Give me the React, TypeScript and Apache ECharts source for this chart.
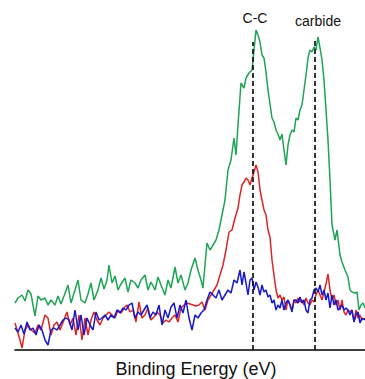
import React, { useEffect, useRef } from "react";
import * as echarts from "echarts";

// channel position (left→right) and intensity readings (screen-depth, converted to counts below)
const greenPts: number[][] = [
  [15, 303], [18, 298], [22, 295], [25, 301], [28, 290], [31, 294], [35, 316], [38, 296], [41, 300], [45, 298],
  [48, 305], [51, 300], [55, 305], [58, 296], [61, 304], [64, 296], [68, 285], [71, 303], [75, 290], [78, 280],
  [81, 300], [85, 303], [88, 294], [91, 283], [94, 300], [98, 290], [101, 278], [104, 289], [107, 280], [109, 265],
  [112, 283], [115, 276], [118, 290], [121, 284], [125, 278], [128, 292], [131, 280], [135, 283], [138, 288], [141, 280],
  [145, 275], [148, 290], [151, 282], [155, 290], [158, 277], [161, 285], [165, 295], [168, 280], [171, 288], [175, 267],
  [178, 283], [181, 275], [185, 290], [188, 283], [191, 270], [195, 258], [198, 270], [201, 280], [203, 288], [205, 265],
  [207, 243], [210, 250], [213, 245], [216, 240], [219, 230], [222, 215], [225, 200], [228, 170], [231, 160], [234, 138],
  [236, 155], [238, 125], [241, 83], [244, 88], [246, 78], [249, 73], [252, 70], [254, 50], [256, 30], [258, 35],
  [260, 42], [262, 55], [264, 58], [266, 72], [268, 90], [270, 104], [272, 118], [274, 122], [276, 130], [278, 134],
  [280, 140], [282, 134], [284, 150], [286, 165], [288, 145], [290, 135], [292, 130], [294, 132], [296, 118], [298, 120],
  [300, 110], [302, 105], [304, 90], [306, 75], [308, 58], [310, 50], [312, 52], [314, 47], [316, 50], [318, 37],
  [320, 48], [322, 60], [324, 80], [326, 110], [328, 140], [330, 180], [332, 225], [335, 240], [337, 230], [340, 255],
  [342, 262], [345, 270], [348, 277], [350, 290], [352, 292], [355, 293], [357, 292], [359, 310], [361, 305], [363, 303],
  [365, 308],
];

const redPts: number[][] = [
  [15, 323], [18, 333], [20, 340], [22, 348], [25, 330], [28, 325], [31, 330], [35, 333], [38, 325], [41, 330],
  [45, 315], [48, 318], [51, 335], [54, 325], [57, 322], [60, 330], [64, 320], [67, 312], [70, 325], [73, 318],
  [76, 335], [79, 315], [82, 340], [85, 318], [88, 335], [91, 320], [94, 312], [97, 320], [100, 325], [103, 318],
  [106, 315], [109, 312], [112, 315], [115, 318], [118, 310], [121, 313], [124, 308], [127, 305], [130, 312], [133, 310],
  [136, 322], [139, 302], [142, 318], [145, 315], [148, 308], [151, 320], [154, 317], [157, 312], [160, 315], [163, 323],
  [166, 320], [169, 322], [172, 318], [175, 315], [178, 322], [181, 308], [184, 305], [187, 303], [190, 304], [193, 305],
  [196, 306], [199, 305], [202, 302], [205, 310], [208, 300], [211, 295], [214, 290], [217, 285], [220, 275], [223, 265],
  [226, 250], [229, 232], [232, 230], [235, 218], [238, 208], [240, 195], [242, 185], [244, 182], [246, 178], [248, 180],
  [250, 185], [252, 178], [254, 172], [256, 165], [258, 172], [260, 190], [262, 200], [264, 210], [266, 215], [268, 230],
  [270, 237], [272, 260], [274, 275], [276, 290], [278, 298], [280, 295], [282, 300], [284, 297], [286, 310], [288, 300],
  [290, 305], [292, 310], [294, 300], [296, 303], [298, 298], [300, 302], [302, 300], [304, 305], [306, 298], [308, 303],
  [310, 305], [312, 300], [314, 302], [316, 295], [318, 290], [320, 295], [322, 300], [324, 292], [326, 284], [328, 274],
  [330, 290], [332, 300], [334, 295], [336, 305], [338, 300], [340, 310], [342, 300], [344, 312], [346, 315], [348, 310],
  [350, 312], [352, 310], [354, 322], [356, 310], [358, 318], [360, 315], [362, 320], [365, 318],
];

const bluePts: number[][] = [
  [15, 328], [18, 332], [21, 325], [24, 334], [27, 322], [30, 330], [33, 328], [36, 335], [39, 325], [42, 330],
  [45, 340], [48, 345], [51, 330], [54, 328], [57, 330], [60, 325], [63, 320], [66, 318], [69, 320], [72, 330],
  [75, 310], [78, 330], [81, 315], [84, 335], [87, 318], [90, 325], [93, 330], [96, 312], [99, 320], [102, 318],
  [105, 315], [108, 320], [111, 315], [114, 318], [117, 310], [120, 313], [123, 308], [126, 310], [129, 305], [132, 303],
  [135, 318], [138, 312], [141, 315], [144, 310], [147, 305], [150, 318], [153, 312], [156, 315], [159, 305], [162, 325],
  [165, 310], [168, 318], [171, 307], [174, 303], [177, 318], [180, 305], [183, 313], [186, 300], [189, 318], [192, 330],
  [195, 315], [198, 318], [201, 313], [204, 310], [207, 300], [210, 292], [213, 295], [216, 298], [219, 290], [222, 300],
  [225, 295], [228, 290], [231, 293], [234, 280], [237, 283], [240, 270], [242, 285], [244, 272], [246, 283], [248, 295],
  [250, 280], [252, 278], [254, 290], [256, 282], [258, 287], [260, 295], [262, 285], [264, 292], [266, 290], [268, 297],
  [270, 295], [272, 303], [274, 300], [276, 310], [278, 305], [280, 308], [282, 300], [284, 310], [286, 303], [288, 300],
  [290, 305], [292, 312], [294, 300], [296, 300], [298, 303], [300, 297], [302, 303], [304, 300], [306, 310], [308, 313],
  [310, 300], [312, 298], [314, 290], [316, 288], [318, 292], [320, 285], [322, 295], [324, 290], [326, 300], [328, 293],
  [330, 308], [332, 295], [334, 305], [336, 300], [338, 310], [340, 308], [342, 305], [344, 310], [346, 308], [348, 310],
  [350, 315], [352, 310], [354, 322], [356, 315], [358, 312], [360, 323], [362, 318], [365, 320],
];

const peakNames = ["C-C", "carbide"];
const peakPositions = [253, 315];
const peakTops = [308, 310];
const xTitle = "Binding Energy (eV)";

const BASE = 350;
const toCounts = (pts: number[][]) => pts.map(([x, y]) => [x, BASE - y]);

export default function App() {
  const ref = useRef<HTMLDivElement>(null);
  useEffect(() => {
    if (!ref.current) return;
    const chart = echarts.init(ref.current, undefined, { renderer: "svg" });
    const font = "'Liberation Sans', Arial, Helvetica, sans-serif";
    chart.setOption({
      animation: false,
      grid: { left: 15, right: 0, top: 0, bottom: 29 },
      xAxis: {
        type: "value",
        min: 15,
        max: 365,
        axisLine: { show: true, onZero: false, lineStyle: { color: "#000", width: 1.6 } },
        axisTick: { show: false },
        axisLabel: { show: false },
        splitLine: { show: false },
      },
      yAxis: {
        type: "value",
        min: 0,
        max: 350,
        show: false,
        splitLine: { show: false },
      },
      series: [
        {
          type: "line",
          data: toCounts(greenPts),
          showSymbol: false,
          lineStyle: { color: "#1fa354", width: 1.5 },
          itemStyle: { color: "#1fa354" },
          z: 2,
        },
        {
          type: "line",
          data: toCounts(redPts),
          showSymbol: false,
          lineStyle: { color: "#dd2424", width: 1.5 },
          itemStyle: { color: "#dd2424" },
          z: 3,
        },
        {
          type: "line",
          data: toCounts(bluePts),
          showSymbol: false,
          lineStyle: { color: "#1717cc", width: 1.5 },
          itemStyle: { color: "#1717cc" },
          z: 4,
          markLine: {
            silent: true,
            symbol: ["none", "none"],
            label: { show: false },
            lineStyle: { color: "#111", width: 2, type: [5, 3], opacity: 0.85 },
            data: peakPositions.map((p, i) => [
              { coord: [p, 0] },
              { coord: [p, peakTops[i]] },
            ]),
          },
        },
      ],
      graphic: [
        {
          type: "text",
          x: 255,
          y: 18,
          style: {
            text: peakNames[0],
            fontSize: 14,
            fontFamily: font,
            fill: "#111",
            textAlign: "center",
            textVerticalAlign: "middle",
          },
        },
        {
          type: "text",
          x: 318,
          y: 21,
          style: {
            text: peakNames[1],
            fontSize: 14,
            fontFamily: font,
            fill: "#111",
            textAlign: "center",
            textVerticalAlign: "middle",
          },
        },
        {
          type: "text",
          x: 196,
          y: 369,
          style: {
            text: xTitle,
            fontSize: 18,
            fontFamily: font,
            fill: "#111",
            textAlign: "center",
            textVerticalAlign: "middle",
          },
        },
      ],
    });
    return () => chart.dispose();
  }, []);
  return (
    <div
      ref={ref}
      style={{ position: "absolute", left: 0, top: 0, width: 365, height: 379 }}
    />
  );
}
